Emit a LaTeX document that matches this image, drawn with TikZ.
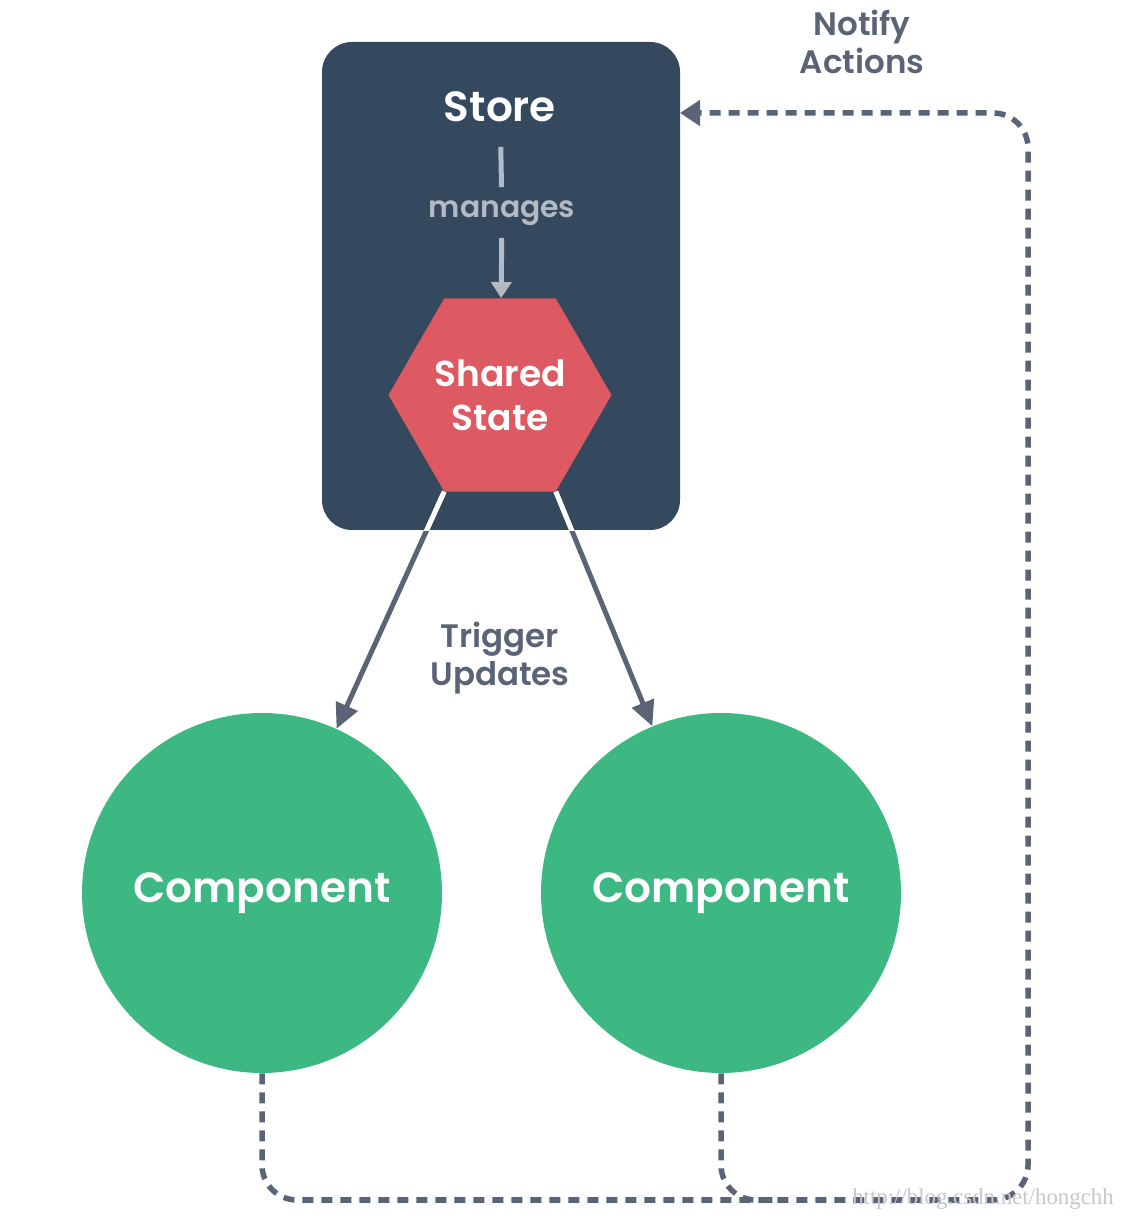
\documentclass[tikz,border=0pt]{standalone}
\usepackage{fontspec}
\setmainfont{Poppins}[BoldFont={Poppins SemiBold}]
\newfontfamily\wmfont{Liberation Serif}
\usetikzlibrary{arrows.meta, shapes.geometric, calc}
\definecolor{storeblue}{HTML}{35495E}
\definecolor{statered}{HTML}{DD5A63}
\definecolor{compgreen}{HTML}{3DB882}
\definecolor{slate}{HTML}{5B6477}
\definecolor{mgray}{HTML}{B3BAC3}

\begin{document}
\begin{tikzpicture}[
  storebox/.style={fill=storeblue, rounded corners=0.6cm, minimum width=7.16cm, minimum height=9.76cm},
  storetext/.style={text=white, inner sep=0pt, font=\bfseries\fontsize{24}{28}\selectfont},
  mtext/.style={text=mgray, inner sep=0pt, font=\bfseries\fontsize{17}{20}\selectfont},
  mline/.style={draw=mgray, line width=0.1cm},
  statehex/.style={regular polygon, regular polygon sides=6, fill=statered, minimum size=4.46cm, inner sep=0pt, text=white, font=\bfseries\fontsize{20.5}{25}\selectfont, align=center},
  comp/.style={circle, fill=compgreen, minimum size=7.2cm, inner sep=0pt, text=white, font=\bfseries\fontsize{24}{28}\selectfont},
  note/.style={text=slate, font=\bfseries\fontsize{18.5}{22}\selectfont, align=center},
  update/.style={draw=slate, line width=0.1cm, -{Triangle[length=0.5cm, width=0.46cm]}},
  notify/.style={draw=slate, line width=0.11cm, dash pattern=on 0.22cm off 0.16cm, rounded corners=0.7cm},
  wm/.style={text=black!22, font=\wmfont\fontsize{13}{15}\selectfont}
]
\useasboundingbox (0,0) rectangle (22.68,24.4);
\node[storebox] (store) at (10.02,18.68) {};
\node[storetext] (storelabel) at (10.0,22.26) {Store};
\node[mtext] (manages) at (10.04,20.14) {manages};
\node[statehex] (state) at (10.0,16.5) {Shared\\State};
\draw[mline, shorten <=0.49cm, shorten >=0.26cm] (storelabel) -- (manages);
\draw[mline, shorten <=0.24cm, -{Triangle[length=0.32cm, width=0.4cm]}] (manages) -- (state);
\node[comp] (comp1) at (5.24,6.54) {Component};
\node[comp] (comp2) at (14.42,6.54) {Component};
\node[note] (trigger) at (10.0,11.24) {Trigger\\Updates};
\node[note] (notifylabel) at (17.24,23.56) {Notify\\Actions};
\coordinate (sl) at ($(state.center)+(240:2.23)$);
\coordinate (sr) at ($(state.center)+(300:2.23)$);
\draw[update] (sl) -- (comp1);
\draw[update] (sr) -- (comp2);
\begin{scope}
\clip (store.south west) rectangle (store.north east);
\draw[white, line width=0.1cm] (sl) -- (comp1);
\draw[white, line width=0.1cm] (sr) -- (comp2);
\end{scope}
\coordinate (bend) at (20.56,0.4);
\coordinate (entry) at (13.6,22.14);
\draw[notify, -{Triangle[length=0.4cm, width=0.5cm]}] (comp1.south) |- (bend) |- (entry);
\draw[notify] (comp2.south) |- ($(comp2.south |- bend)+(1.2,0)$);
\node[wm] (wmark) at (19.66,0.42) {http://blog.csdn.net/hongchh};
\end{tikzpicture}
\end{document}
